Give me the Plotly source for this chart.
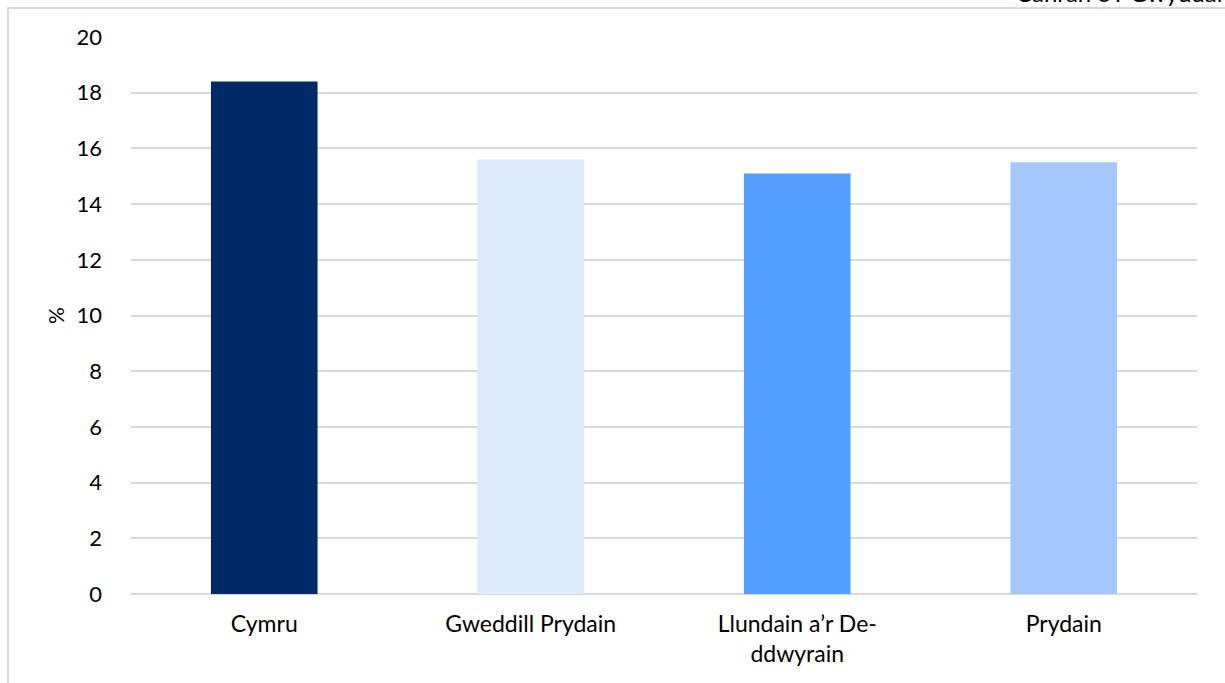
import plotly.graph_objects as go

# Share of workers by region (%)
categories = ["Cymru", "Gweddill Prydain", "Llundain a’r De-<br>ddwyrain", "Prydain"]
values = [18.4, 15.6, 15.1, 15.5]
bar_colors = ["#002B66", "#DCEAFD", "#549EFF", "#A3C9FE"]
y_ticks = [0, 2, 4, 6, 8, 10, 12, 14, 16, 18, 20]

W, H = 1225, 683
ML, MR, MT, MB = 131, 28, 37, 89
PW, PH = W - ML - MR, H - MT - MB

def px_x(p):
    return (p - ML) / PW

def px_y(p):
    return 1 - (p - MT) / PH

font = "Lato, Carlito, Calibri, sans-serif"

fig = go.Figure(
    go.Bar(
        x=categories,
        y=values,
        marker=dict(color=bar_colors, line=dict(width=0)),
        hoverinfo="x+y",
    )
)

fig.update_layout(
    width=W,
    height=H,
    margin=dict(l=ML, r=MR, t=MT, b=MB),
    paper_bgcolor="white",
    plot_bgcolor="white",
    bargap=0.6,
    showlegend=False,
    font=dict(family=font, size=23, color="#000000"),
    xaxis=dict(
        showgrid=False,
        showline=False,
        ticks="",
        tickfont=dict(size=23, color="#000000"),
        ticklabelstandoff=14,
    ),
    yaxis=dict(
        range=[0, 20],
        tickvals=y_ticks,
        showgrid=True,
        gridcolor="#D9D9D9",
        gridwidth=1.5,
        zeroline=True,
        zerolinecolor="#D9D9D9",
        zerolinewidth=1.5,
        showline=False,
        ticks="",
        tickfont=dict(size=22, color="#000000"),
        ticklabelstandoff=28,
        title=dict(text="%", font=dict(size=21, color="#000000"), standoff=6),
    ),
    shapes=[
        dict(
            type="rect",
            xref="paper",
            yref="paper",
            x0=px_x(8),
            x1=px_x(W + 20),
            y0=px_y(H + 20),
            y1=px_y(8),
            line=dict(color="#D9D9D9", width=2),
            fillcolor="rgba(0,0,0,0)",
            layer="below",
        )
    ],
    annotations=[
        dict(
            text="Canran o'r Gwyddal",
            xref="paper",
            yref="paper",
            x=px_x(1224),
            y=px_y(9),
            xanchor="right",
            yanchor="bottom",
            showarrow=False,
            font=dict(size=24, color="#000000", family=font),
        )
    ],
)

fig.write_html("out.html")
